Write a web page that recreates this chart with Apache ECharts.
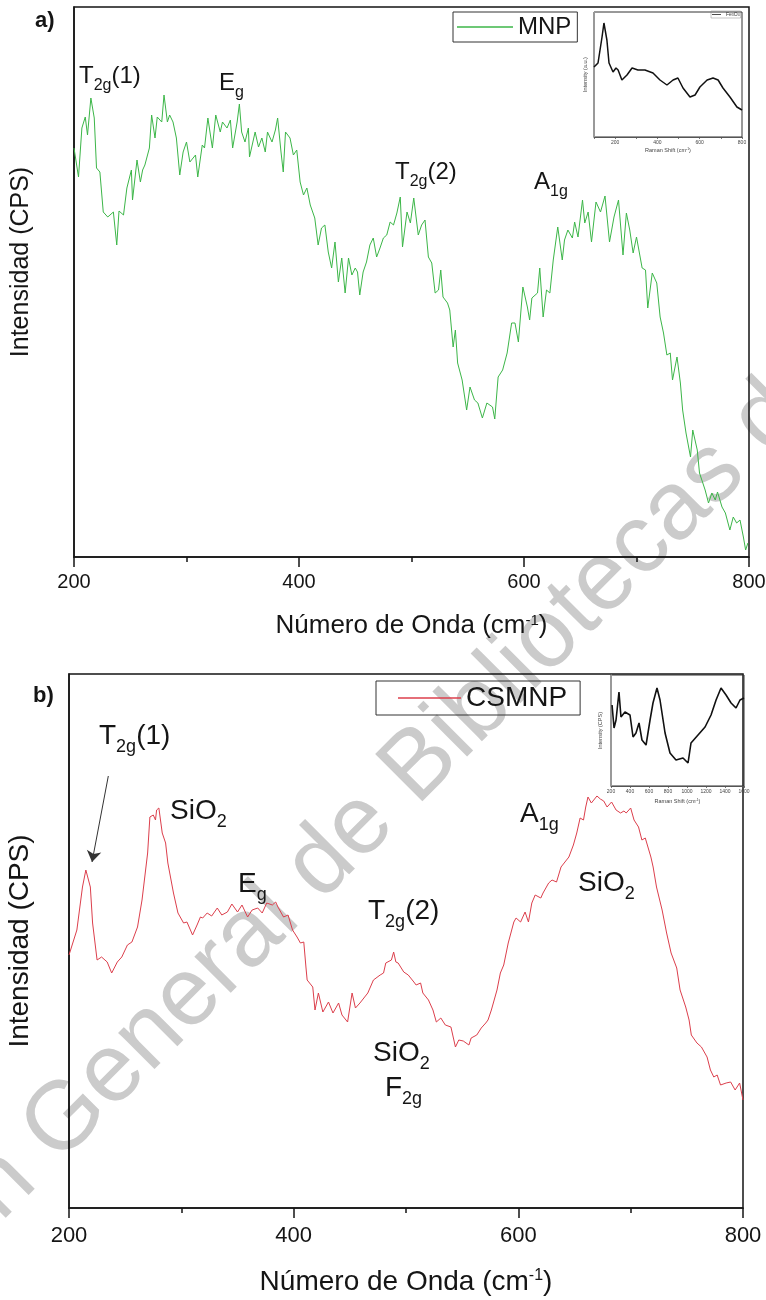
<!DOCTYPE html>
<html><head><meta charset="utf-8">
<script src="https://cdn.jsdelivr.net/npm/echarts@6/dist/echarts.min.js"></script>
<style>html,body{margin:0;padding:0;background:#fff}#c{width:766px;height:1300px}</style>
</head><body><div id="c"></div><script>
// ---------- data ----------
const xTickValues = [200, 400, 600, 800];
const mnpX = [200,204,207,210,212,215,218,220,223,226,230,235,238,240,244,247,251,252,256,259,261,263,267,269,272,274,278,280,283,285,288,291,294,297,300,303,308,310,314,316,319,323,326,330,332,336,339,341,345,347,349,352,355,356,361,364,367,370,372,376,379,381,384,386,388,392,395,398,401,404,407,410,414,417,420,423,426,429,432,435,438,441,444,447,450,452,454,457,460,463,466,469,472,475,478,481,484,487,490,492,496,499,502,506,509,512,515,518,521,524,526,528,532,534,537,539,541,545,549,552,556,559,563,567,572,574,577,581,585,589,592,595,599,603,605,607,612,614,617,620,623,626,630,634,636,639,643,645,648,652,654,657,660,664,668,672,676,680,684,688,691,694,697,700,705,708,710,714,718,721,724,727,730,732,736,739,741,744,748,750,754,756,761,764,767,770,772,776,779,783,786,789,792,795,797,799];
const mnpY = [409,380,429,440,422,459,439,389,385,345,340,345,312,346,342,369,387,357,397,375,387,392,409,442,419,440,435,462,435,442,435,419,382,405,415,395,402,380,412,409,439,409,442,425,435,429,437,409,435,453,425,415,429,400,425,410,419,405,425,415,427,439,405,385,425,419,402,407,375,362,369,352,339,312,329,332,305,289,315,275,299,264,299,282,289,285,262,285,295,312,319,300,309,319,322,335,332,344,360,310,345,334,359,322,332,337,300,294,264,267,287,260,254,247,210,227,194,177,147,170,157,154,139,154,150,138,180,187,204,234,234,215,270,250,237,259,264,289,240,267,264,297,330,297,317,327,319,335,320,357,334,345,315,355,345,361,315,340,357,302,344,327,304,320,289,287,249,284,274,240,224,202,204,177,200,174,147,124,100,127,107,84,67,54,64,57,65,50,44,27,40,34,37,20,7,14];
const csX = [200,207,212,215,219,221,225,229,234,238,243,247,252,256,261,265,270,272,275,277,278,280,283,286,288,293,297,302,305,310,314,317,319,323,327,332,336,341,345,350,354,359,363,368,372,376,381,384,386,391,395,399,403,406,409,411,412,417,419,422,426,431,435,440,443,448,452,455,459,466,471,477,480,482,487,489,491,493,498,502,507,509,513,515,520,524,527,531,535,540,544,547,551,556,558,563,567,571,573,576,581,584,587,591,596,598,602,606,609,612,615,620,622,627,630,634,638,645,649,652,655,658,660,662,665,670,673,676,679,683,687,691,694,696,700,703,707,710,713,718,720,723,728,732,736,741,744,749,752,754,759,763,768,771,774,777,780,785,789,793,797,800];
const csY = [253,278,321,338,321,285,248,251,246,235,246,251,263,266,281,308,355,391,393,388,398,400,375,365,345,315,295,285,286,273,283,291,290,295,292,300,293,296,304,296,303,291,298,300,295,305,303,306,301,291,293,278,271,265,266,240,228,221,198,215,196,206,195,205,193,186,215,200,205,215,228,233,235,245,248,256,246,245,236,233,226,223,225,215,208,198,186,190,183,181,161,168,167,163,170,173,180,185,188,198,218,235,243,265,286,290,286,296,286,305,313,310,315,325,328,326,341,351,363,375,390,388,401,411,405,412,409,407,401,406,398,395,397,395,400,388,381,368,370,351,341,321,298,275,255,240,218,201,188,173,165,161,151,138,131,133,123,125,126,118,125,108];
const feX = [100,119,138,147,161,171,190,204,214,232,256,280,308,341,379,412,445,474,497,521,554,578,601,635,663,687,710,743,776,800];
const feY = [70,74,100,114,97,74,65,69,67,57,62,69,67,67,64,57,52,57,59,49,40,42,50,57,59,57,49,40,30,27];
const csInX = [211,232,253,284,305,347,400,432,463,495,526,569,611,642,684,716,769,821,884,958,1011,1042,1116,1190,1253,1306,1358,1411,1464,1516,1558,1600];
const csInY = [81,58,66,94,69,74,71,49,53,63,46,41,66,83,98,86,53,33,26,28,23,43,51,59,71,86,98,91,83,78,86,88];
const arrowFrom = [235, 432];
const arrowTo = [220.5, 346];

// ---------- chart ----------
const FF = "'Liberation Sans', Arial, Helvetica, sans-serif";
const zip = (xs, ys) => xs.map((x, i) => [x, ys[i]]);
const BLACK = '#151515';

function ann(text, x, y, fs, sfs, drop) {
  return {
    type: 'text', x: x, y: y, z: 20,
    style: {
      text: text, fill: BLACK, align: 'left', verticalAlign: 'top',
      rich: {
        m: { fontSize: fs, fontFamily: FF, fill: BLACK, verticalAlign: 'top', lineHeight: fs },
        s: { fontSize: sfs, fontFamily: FF, fill: BLACK, verticalAlign: 'bottom', lineHeight: fs + drop }
      }
    }
  };
}

function mainX(grid, fs, margin, nameFs, nameGap) {
  return {
    gridIndex: grid, type: 'value', min: 200, max: 800, interval: 200,
    axisLine: { onZero: false, lineStyle: { color: BLACK, width: 1.5 } },
    axisTick: { length: 10, lineStyle: { color: BLACK, width: 1.5 } },
    minorTick: { show: true, splitNumber: 2, length: 5, lineStyle: { color: BLACK, width: 1.5 } },
    splitLine: { show: false },
    axisLabel: { fontSize: fs, color: BLACK, fontFamily: FF, margin: margin },
    name: '{n|Número de Onda (cm}{p|-1}{n|)}', nameLocation: 'middle', nameGap: nameGap,
    nameTextStyle: {
      rich: {
        n: { fontSize: nameFs, fontFamily: FF, color: BLACK, verticalAlign: 'top', lineHeight: nameFs },
        p: { fontSize: Math.round(nameFs * 0.58), fontFamily: FF, color: BLACK, verticalAlign: 'top' }
      }
    }
  };
}
function mainY(grid, max, nameFs, nameGap, shift) {
  return {
    gridIndex: grid, type: 'value', min: 0, max: max,
    axisLine: { onZero: false, lineStyle: { color: BLACK, width: 1.5 } },
    axisTick: { show: false }, axisLabel: { show: false }, splitLine: { show: false },
    name: 'Intensidad (CPS)', nameLocation: 'middle', nameGap: nameGap,
    nameTextStyle: { fontSize: nameFs, fontFamily: FF, color: BLACK, padding: [0, 0, 0, shift] }
  };
}
function insetX(grid, min, max, interval, labelStep, nameGap) {
  return {
    gridIndex: grid, type: 'value', min: min, max: max, interval: interval,
    axisLine: { onZero: false, lineStyle: { color: '#555', width: 1 } },
    axisTick: { length: 2, lineStyle: { color: '#555', width: 0.8 } },
    splitLine: { show: false },
    axisLabel: { fontSize: 5, color: '#444', fontFamily: FF, margin: 3,
      formatter: v => (v % labelStep === 0 ? String(v) : '') },
    name: '{n|Raman Shift (cm}{p|-1}{n|)}', nameLocation: 'middle', nameGap: nameGap,
    nameTextStyle: { rich: {
      n: { fontSize: 5.5, fontFamily: FF, color: '#444', verticalAlign: 'top', lineHeight: 6 },
      p: { fontSize: 3.5, fontFamily: FF, color: '#444', verticalAlign: 'top' } } }
  };
}
function insetY(grid, max, name, nameGap) {
  return {
    gridIndex: grid, type: 'value', min: 0, max: max,
    axisLine: { onZero: false, lineStyle: { color: '#999', width: 1 } },
    axisTick: { show: false }, axisLabel: { show: false }, splitLine: { show: false },
    name: name, nameLocation: 'middle', nameGap: nameGap,
    nameTextStyle: { fontSize: 5.5, fontFamily: FF, color: '#444' }
  };
}

const WM = { size: 97, x: 5, y: 1112, color: '#cbcbcb' };
const G = (left, top, width, height, color, bw) => ({
  left: left, top: top, width: width, height: height, show: true, borderColor: color, borderWidth: bw,
  backgroundColor: 'transparent', containLabel: false, outerBoundsMode: 'none'
});

const chart = echarts.init(document.getElementById('c'), null, { renderer: 'canvas' });
const option = {
  animation: false,
  backgroundColor: '#fff',
  grid: [
    G(74, 7, 675, 550, BLACK, 1.5),
    G(69, 674, 674, 534, BLACK, 1.5),
    G(594, 12, 148, 125, '#333', 1),
    G(611, 675, 133, 111, '#333', 1)
  ],
  xAxis: [
    mainX(0, 20, 15, 26, 56),
    mainX(1, 22, 17, 28, 60),
    insetX(2, 100, 800, 100, 200, 10),
    insetX(3, 200, 1600, 200, 200, 12)
  ],
  yAxis: [
    mainY(0, 550, 25, 40, 40),
    mainY(1, 534, 28, 35, 0),
    insetY(2, 125, 'Intensity (a.u.)', 6),
    insetY(3, 111, 'Intensity (CPS)', 8)
  ],
  legend: [
    { data: ['MNP'], left: 453, top: 12, orient: 'horizontal', icon: 'rect', itemWidth: 56, itemHeight: 1.5,
      padding: [3, 6, 3, 4], borderColor: '#333', borderWidth: 1, selectedMode: false,
      textStyle: { fontSize: 24, color: BLACK, fontFamily: FF } },
    { data: ['CSMNP'], left: 376, top: 681, orient: 'horizontal', icon: 'rect', itemWidth: 63, itemHeight: 1.5,
      padding: [3, 13, 3, 22], borderColor: '#333', borderWidth: 1, selectedMode: false,
      textStyle: { fontSize: 28, color: BLACK, fontFamily: FF } },
    { data: ['Fe3O4'], left: 711, top: 11, orient: 'horizontal', icon: 'rect', itemWidth: 9, itemHeight: 0.8,
      padding: [1, 1, 1, 1], borderColor: '#888', borderWidth: 0.5, selectedMode: false,
      formatter: () => 'Fe{s|3}O{s|4}',
      textStyle: { fontSize: 5, color: '#333', fontFamily: FF, rich: { s: { fontSize: 3.5, verticalAlign: 'bottom', fontFamily: FF, color: '#333' } } } }
  ],
  series: [
    { type: 'line', name: 'MNP', xAxisIndex: 0, yAxisIndex: 0, data: zip(mnpX, mnpY), symbol: 'none',
      color: '#3cb648', lineStyle: { color: '#3cb648', width: 1 }, z: 5 },
    { type: 'line', name: 'CSMNP', xAxisIndex: 1, yAxisIndex: 1, data: zip(csX, csY), symbol: 'none',
      color: '#dc3f4c', lineStyle: { color: '#dc3f4c', width: 1 }, z: 5,
      markLine: { silent: true, symbol: ['none', 'arrow'], symbolSize: 11, animation: false,
        lineStyle: { color: '#333', width: 1, type: 'solid' }, label: { show: false },
        data: [[{ coord: arrowFrom }, { coord: arrowTo }]] } },
    { type: 'line', name: 'Fe3O4', xAxisIndex: 2, yAxisIndex: 2, data: zip(feX, feY), symbol: 'none',
      color: '#222', lineStyle: { color: '#111', width: 1.5 }, z: 5 },
    { type: 'line', name: 'CSMNP inset', xAxisIndex: 3, yAxisIndex: 3, data: zip(csInX, csInY), symbol: 'none',
      color: '#222', lineStyle: { color: '#111', width: 1.6 }, z: 5 }
  ],
  graphic: [
    // watermark
    { type: 'text', x: WM.x, y: WM.y, rotation: Math.PI / 4, z: -1, silent: true,
      style: { text: 'General de Bibliotecas de la UAQ', fontSize: WM.size, fontFamily: FF, fill: WM.color, align: 'left', verticalAlign: 'top' } },
    { type: 'text', x: WM.x, y: WM.y, rotation: Math.PI / 4, z: -1, silent: true,
      style: { text: 'Dirección ', fontSize: WM.size, fontFamily: FF, fill: WM.color, align: 'right', verticalAlign: 'top' } },
    // panel letters
    { type: 'text', x: 35, y: 10, z: 20, style: { text: 'a)', fontSize: 22, fontWeight: 'bold', fontFamily: FF, fill: BLACK } },
    { type: 'text', x: 33, y: 685, z: 20, style: { text: 'b)', fontSize: 22, fontWeight: 'bold', fontFamily: FF, fill: BLACK } },
    // panel a annotations
    ann('{m|T}{s|2g}{m|(1)}', 79, 64, 24, 16, 6),
    ann('{m|E}{s|g}', 219, 71, 24, 16, 6),
    ann('{m|T}{s|2g}{m|(2)}', 395, 160, 24, 16, 6),
    ann('{m|A}{s|1g}', 534, 170, 24, 16, 6),
    // panel b annotations
    ann('{m|T}{s|2g}{m|(1)}', 99, 722, 28, 18, 6.5),
    ann('{m|SiO}{s|2}', 170, 797, 28, 18, 6.5),
    ann('{m|E}{s|g}', 238, 870, 28, 18, 6.5),
    ann('{m|T}{s|2g}{m|(2)}', 368, 897, 28, 18, 6.5),
    ann('{m|A}{s|1g}', 520, 800, 28, 18, 6.5),
    ann('{m|SiO}{s|2}', 578, 869, 28, 18, 6.5),
    ann('{m|SiO}{s|2}', 373, 1039, 28, 18, 6.5),
    ann('{m|F}{s|2g}', 385, 1074, 28, 18, 6.5)
  ]
};
chart.setOption(option);
</script></body></html>
